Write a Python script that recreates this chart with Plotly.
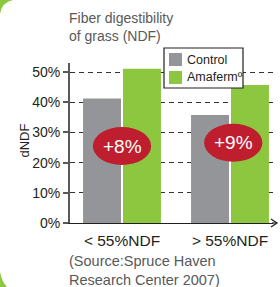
import plotly.graph_objects as go

# ---- data ----
categories = ["< 55%NDF", "> 55%NDF"]
series_names = ["Control", "Amaferm\u00ba"]
control_values = [0.412, 0.358]
amaferm_values = [0.511, 0.457]
diff_labels = ["+8%", "+9%"]
diff_y = [0.255, 0.266]
y_tickvals = [0, 0.1, 0.2, 0.3, 0.4, 0.5]

# ---- style ----
GRAY = "rgb(147,149,152)"
GREEN = "rgb(141,198,63)"
RED = "rgb(190,30,45)"
DARK = "#231f20"
REG = "Liberation Sans, Arial"

W, H = 280, 287
L, R, T, B = 70, 7, 63, 64
PW, PH = W - L - R, H - T - B


def px(x):
    return (x - L) / PW


def py(y):
    return (H - B - y) / PH


fig = go.Figure()
fig.add_bar(x=categories, y=control_values, name=series_names[0],
            marker=dict(color=GRAY, line_width=0), showlegend=False)
fig.add_bar(x=categories, y=amaferm_values, name=series_names[1],
            marker=dict(color=GREEN, line_width=0), showlegend=False)

x0 = -(122 - L) / 108
x1 = x0 + PW / 108

shapes = []
annotations = []

# difference ellipses
ell_half_w = 0.27
ell_half_h = 0.063
for i, (lab, yc) in enumerate(zip(diff_labels, diff_y)):
    xc = i + (0.03 if i == 1 else 0.0)
    shapes.append(dict(type="circle", xref="x", yref="y",
                       x0=xc - ell_half_w, x1=xc + ell_half_w,
                       y0=yc - ell_half_h, y1=yc + ell_half_h,
                       fillcolor=RED, line_width=0, layer="above"))
    annotations.append(dict(x=xc, y=yc, xref="x", yref="y", text=lab,
                            showarrow=False,
                            font=dict(family=REG, size=19, color="white")))

# axis arrow extension
shapes.append(dict(type="line", xref="paper", yref="paper",
                   x0=px(272), x1=px(277), y0=py(223), y1=py(223),
                   line=dict(color=DARK, width=1.2)))
shapes.append(dict(type="path", xref="paper", yref="paper",
                   path=f"M {px(271)},{py(219)} L {px(277)},{py(223)} L {px(271)},{py(227)}",
                   line=dict(color=DARK, width=1.2)))

# legend box (manual)
shapes.append(dict(type="rect", xref="paper", yref="paper",
                   x0=px(164), x1=px(243), y0=py(48), y1=py(88),
                   fillcolor="white", line=dict(color=DARK, width=1.2),
                   layer="above"))
for (y0s, y1s, col) in [(53, 66, GRAY), (71, 84, GREEN)]:
    shapes.append(dict(type="rect", xref="paper", yref="paper",
                       x0=px(169), x1=px(182), y0=py(y0s), y1=py(y1s),
                       fillcolor=col, line_width=0, layer="above"))
for name, yc in zip(series_names, [60, 77]):
    annotations.append(dict(x=px(185), y=py(yc), xref="paper", yref="paper",
                            text=name, showarrow=False, xanchor="left",
                            yanchor="middle",
                            font=dict(family=REG, size=12.5, color=DARK)))

# green corner decorations
shapes.append(dict(type="path", xref="paper", yref="paper",
                   path=f"M {px(0)},{py(0)} L {px(13)},{py(0)} Q {px(2)},{py(2)} {px(0)},{py(14)} Z",
                   fillcolor=GREEN, line_width=0, layer="below"))
shapes.append(dict(type="path", xref="paper", yref="paper",
                   path=f"M {px(0)},{py(287)} L {px(7)},{py(287)} Q {px(2)},{py(282)} {px(0)},{py(272)} Z",
                   fillcolor=GREEN, line_width=0, layer="below"))

# title and source
annotations.append(dict(x=px(67), y=py(8), xref="paper", yref="paper",
                        text="Fiber digestibility<br>of grass (NDF)",
                        showarrow=False, xanchor="left", yanchor="top",
                        align="left",
                        font=dict(family=REG, size=14, color="#58595b")))
annotations.append(dict(x=px(67), y=py(251), xref="paper", yref="paper",
                        text="(Source:Spruce Haven<br>Research Center 2007)",
                        showarrow=False, xanchor="left", yanchor="top",
                        align="left",
                        font=dict(family=REG, size=14.5, color="#58595b")))
# y axis title
annotations.append(dict(x=px(14), y=py(141), xref="paper", yref="paper",
                        text="dNDF", textangle=-90, showarrow=False,
                        font=dict(family=REG, size=13, color=DARK)))

fig.update_layout(
    width=W, height=H,
    margin=dict(l=L, r=R, t=T, b=B, pad=0),
    paper_bgcolor="white", plot_bgcolor="white",
    barmode="group", bargap=0.26, bargroupgap=0.05,
    shapes=shapes, annotations=annotations,
    showlegend=False,
    xaxis=dict(type="category", range=[x0, x1], showline=True,
               linecolor=DARK, linewidth=1.2, ticks="outside", ticklen=3,
               tickcolor="rgba(0,0,0,0)", showgrid=False,
               tickfont=dict(family=REG, size=15.5, color=DARK)),
    yaxis=dict(range=[0, 0.53], tickvals=y_tickvals, tickformat=".0%",
               showline=True, linecolor="#58595b", linewidth=2,
               ticks="outside", ticklen=5, tickwidth=1.5, tickcolor="#58595b",
               showgrid=True, gridcolor="#333333", gridwidth=1,
               griddash="5px,4px", zeroline=False,
               tickfont=dict(family=REG, size=14, color=DARK)),
)

fig.write_html("out.html",
               config={"displayModeBar": False},
               post_script="document.body.style.margin='0';")
